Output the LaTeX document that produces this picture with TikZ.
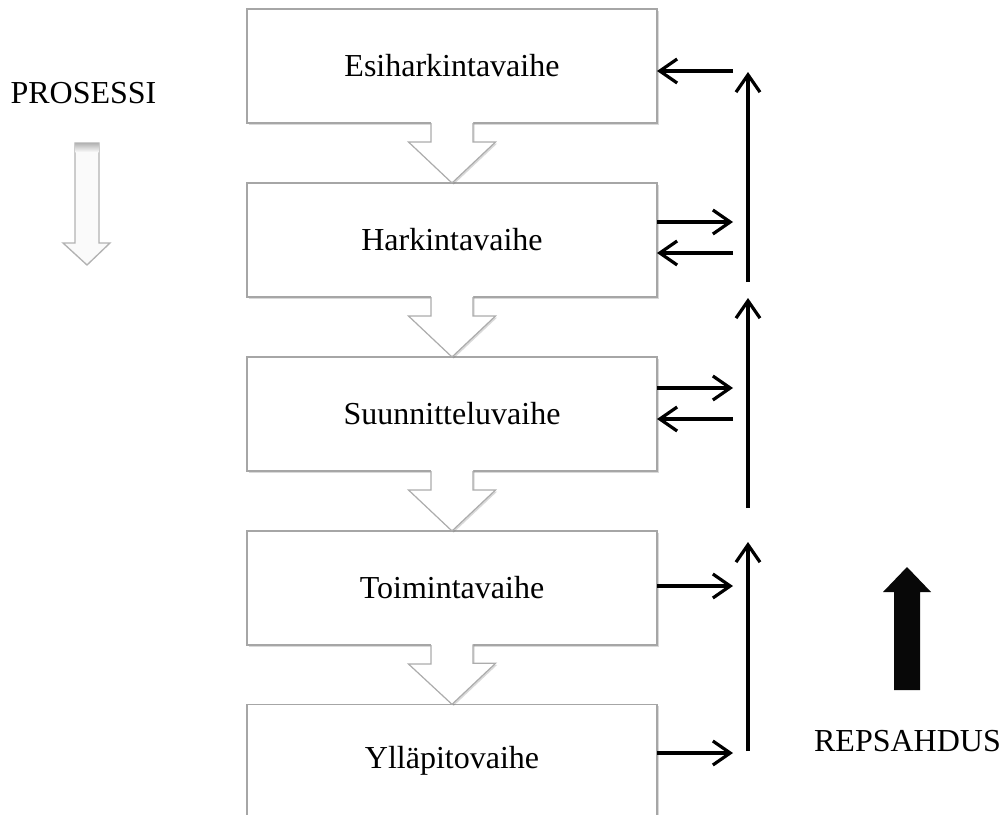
\documentclass[tikz,border=0pt]{standalone}
\usepackage{fontspec}
\setmainfont{Liberation Serif}
\usetikzlibrary{positioning,calc,arrows.meta,shadows}

\tikzset{
    phase/.style={draw=gray!70, line width=0.8pt, fill=white, minimum width=307.5pt, minimum height=85.5pt,
        inner sep=0pt, outer sep=0pt, font=\fontsize{24}{28}\selectfont,
        drop shadow={shadow xshift=1.2pt, shadow yshift=-1.2pt, opacity=0.3}},
    sidetext/.style={inner sep=0pt, font=\fontsize{24}{28}\selectfont},
    fb/.style={line width=2.4pt, -{Straight Barb[length=13pt,width=18pt]}},
    flowline/.style={draw=gray!65, line width=0.9pt, line join=miter}
}

\begin{document}
\begin{tikzpicture}[x=0.75pt,y=-0.75pt]
    \useasboundingbox (0,0) rectangle (1003,814);

    % vaiheet
    \node[phase] (esi) at (452,66) {Esiharkintavaihe};
    \node[phase, below=45pt of esi] (harkinta) {Harkintavaihe};
    \node[phase, below=45pt of harkinta] (suunnittelu) {Suunnitteluvaihe};
    \node[phase, below=45pt of suunnittelu] (toiminta) {Toimintavaihe};
    \node[phase, below=45pt of toiminta, minimum height=84.5pt, yshift=0.5pt] (yllapito) {Ylläpitovaihe};

    % nuolet vaiheiden välissä
    \foreach \a/\b in {esi/harkinta, harkinta/suunnittelu, suunnittelu/toiminta, toiminta/yllapito}{
        \fill[white, drop shadow={shadow xshift=1.2pt, shadow yshift=-1.2pt, opacity=0.3}]
            ($(\a.south)+(-15.75pt,1pt)$) -- ++(0,-15.25pt) -- ++(-16.875pt,0) -- (\b.north)
            -- ++(32.625pt,30.75pt) -- ++(-16.875pt,0) -- ++(0,15.25pt) -- cycle;
        \draw[flowline] ($(\a.south)+(-15.75pt,0)$) -- ++(0,-14.25pt) -- ++(-16.875pt,0) -- (\b.north)
            -- ++(32.625pt,30.75pt) -- ++(-16.875pt,0) -- ++(0,14.25pt);
    }

    % oikean puolen nuolet
    \coordinate (e1) at (733,71);
    \coordinate (h1) at (733,222);
    \coordinate (h2) at (733,253);
    \coordinate (s1) at (733,388);
    \coordinate (s2) at (733,419);
    \coordinate (t1) at (733,586);
    \coordinate (y1) at (733,753);

    \draw[fb] (e1) -- (e1 -| esi.east);
    \draw[fb] (harkinta.east |- h1) -- (h1);
    \draw[fb] (h2) -- (h2 -| harkinta.east);
    \draw[fb] (suunnittelu.east |- s1) -- (s1);
    \draw[fb] (s2) -- (s2 -| suunnittelu.east);
    \draw[fb] (toiminta.east |- t1) -- (t1);
    \draw[fb] (yllapito.east |- y1) -- (y1);

    \coordinate (v1a) at (748,282);
    \coordinate (v1b) at (748,72);
    \coordinate (v2a) at (748,508);
    \coordinate (v2b) at (748,298);
    \coordinate (v3a) at (748,751);
    \coordinate (v3b) at (748,542);
    \draw[fb] (v1a) -- (v1b);
    \draw[fb] (v2a) -- (v2b);
    \draw[fb] (v3a) -- (v3b);

    % prosessi
    \node[sidetext] (prosessi) at (83.5,93.5) {PROSESSI};
    \filldraw[fill=gray!4, draw=gray!60, line width=1pt, line join=miter]
        (75,143) -- (99,143) -- (99,243) -- (110,243) -- (87,265) -- (63,243) -- (75,243) -- cycle;
    \shade[top color=gray!55, bottom color=gray!4] (75.7,143.7) rectangle (98.3,152);

    % repsahdus
    \fill[black!97] (907,567) -- (931,592) -- (920,592) -- (920,690) -- (894,690) -- (894,592) -- (883,592) -- cycle;
    \node[sidetext] (repsahdus) at (907.5,741) {REPSAHDUS};
\end{tikzpicture}
\end{document}
